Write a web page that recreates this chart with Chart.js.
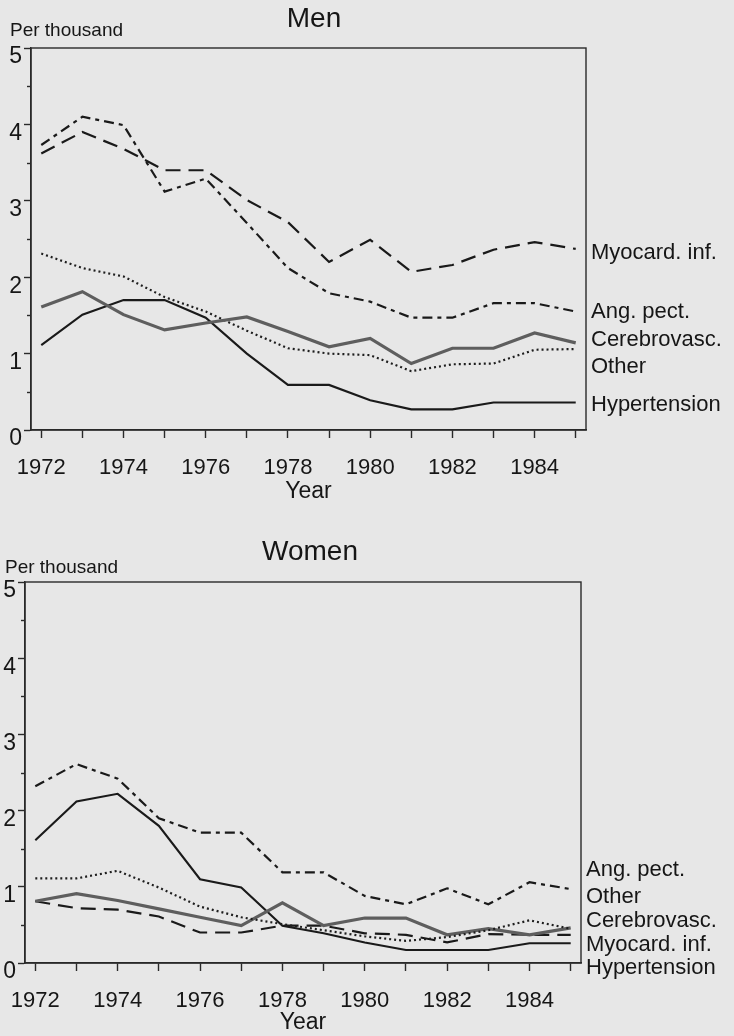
<!DOCTYPE html>
<html><head><meta charset="utf-8">
<script src="https://cdn.jsdelivr.net/npm/chart.js@4.4.1/dist/chart.umd.min.js"></script>
<style>
html,body{margin:0;padding:0;background:#e7e7e7;}
#wrap{position:relative;width:734px;height:1036px;overflow:hidden;background:#e7e7e7;}
.c{position:absolute;left:0;width:734px;height:518px;}
</style></head><body>
<div id="wrap">
<div class="c" style="top:0"><canvas id="men" width="734" height="518"></canvas></div>
<div class="c" style="top:518px"><canvas id="women" width="734" height="518"></canvas></div>
</div>
<script>
// ---- data ----
const years = [1972,1973,1974,1975,1976,1977,1978,1979,1980,1981,1982,1983,1984,1985];
const yearTickLabels = [1972,1974,1976,1978,1980,1982,1984];
const yTickLabels = [0,1,2,3,4,5];

const menMyocard = [3.62,3.90,3.68,3.40,3.40,3.01,2.72,2.20,2.49,2.07,2.16,2.36,2.46,2.37];
const menAngPect = [3.73,4.10,3.99,3.12,3.29,2.71,2.12,1.79,1.68,1.47,1.47,1.66,1.66,1.55];
const menCerebro = [1.61,1.81,1.51,1.31,1.40,1.48,1.29,1.09,1.20,0.87,1.07,1.07,1.27,1.14];
const menOther   = [2.31,2.12,2.01,1.74,1.55,1.30,1.07,1.00,0.98,0.77,0.86,0.87,1.05,1.06];
const menHyper   = [1.11,1.51,1.70,1.70,1.47,1.00,0.59,0.59,0.39,0.27,0.27,0.36,0.36,0.36];

const womenAngPect = [2.32,2.61,2.42,1.90,1.71,1.71,1.19,1.19,0.88,0.77,0.98,0.77,1.06,0.97];
const womenOther   = [1.11,1.11,1.21,0.99,0.74,0.60,0.51,0.43,0.35,0.29,0.34,0.43,0.56,0.45];
const womenCerebro = [0.81,0.91,0.82,0.71,0.60,0.49,0.79,0.49,0.59,0.59,0.37,0.45,0.37,0.46];
const womenMyocard = [0.81,0.72,0.70,0.61,0.40,0.40,0.49,0.49,0.39,0.37,0.27,0.38,0.37,0.37];
const womenHyper   = [1.61,2.12,2.22,1.80,1.10,0.99,0.49,0.39,0.27,0.17,0.17,0.17,0.26,0.26];

// ---- styles ----
const FONT = '"Liberation Sans", Arial, Helvetica, sans-serif';
const INK = '#161616';
Chart.defaults.font.family = FONT;
Chart.defaults.color = INK;

const styles = {
  'Myocard. inf.': {borderColor:'#1a1a1a', borderWidth:2.2, borderDash:[15,8]},
  'Ang. pect.':    {borderColor:'#1a1a1a', borderWidth:2.2, borderDash:[10,5,4,5]},
  'Cerebrovasc.':  {borderColor:'#5e5e5e', borderWidth:3.2, borderDash:[]},
  'Other':         {borderColor:'#1e1e1e', borderWidth:2.2, borderDash:[2,3]},
  'Hypertension':  {borderColor:'#1a1a1a', borderWidth:2.1, borderDash:[]}
};

const decor = {
  id:'decor',
  afterDraw(chart, args, o){
    const {ctx, chartArea:a} = chart;
    const y = chart.scales.y;
    ctx.save();
    ctx.strokeStyle = '#2a2a2a'; ctx.lineWidth = 1.4;
    ctx.strokeRect(a.left, a.top, a.right - a.left, a.bottom - a.top);
    for (let v = 0.5; v < 5; v += 1) {
      const py = Math.round(y.getPixelForValue(v)) + 0.5;
      ctx.beginPath(); ctx.moveTo(a.left - 4, py); ctx.lineTo(a.left, py); ctx.stroke();
    }
    ctx.fillStyle = INK;
    ctx.textBaseline = 'middle';
    ctx.textAlign = 'center';
    ctx.font = '28px ' + FONT;
    ctx.fillText(o.title, o.titleX, o.titleY);
    ctx.textAlign = 'left';
    ctx.font = '19px ' + FONT;
    ctx.fillText('Per thousand', o.unitX, o.unitY);
    ctx.font = '22px ' + FONT;
    o.labels.forEach((t, i) => ctx.fillText(t, a.right + o.labelGap, y.getPixelForValue(o.labelAt[i])));
    ctx.restore();
  }
};

function makeChart(id, series, cfg){
  const datasets = series.map(s => Object.assign({
    label: s.name,
    data: years.map((yr, i) => ({x: yr, y: s.values[i]})),
    pointRadius: 0, fill: false, tension: 0
  }, styles[s.name]));
  return new Chart(document.getElementById(id), {
    type: 'line',
    data: {datasets},
    options: {
      responsive: false, animation: false, devicePixelRatio: 1,
      layout: {padding: {top: cfg.top, left: 0, right: 734 - cfg.right, bottom: 0}},
      plugins: {legend: {display: false}, tooltip: {enabled: false}, title: {display: false}, decor: cfg.decor},
      scales: {
        x: {
          type: 'linear', min: 1971.75, max: 1985.25,
          afterFit(s){ s.height = cfg.xAxisH; s.paddingLeft = 0; s.paddingRight = 0; },
          ticks: {stepSize: 1, includeBounds: false, autoSkip: false, maxRotation: 0,
                  padding: 17, font: {size: 22}, color: INK,
                  callback: v => yearTickLabels.includes(v) ? String(v) : ''},
          grid: {drawOnChartArea: false, drawTicks: true, tickLength: 8, tickColor: '#2a2a2a', tickWidth: 1.4},
          border: {display: true, color: '#2a2a2a', width: 1.4},
          title: {display: true, text: 'Year', font: {size: 23}, color: INK, padding: {top: 0, bottom: cfg.yearPad}}
        },
        y: {
          min: 0, max: 5,
          afterFit(s){ s.width = cfg.left; s.paddingTop = 0; s.paddingBottom = 0; },
          ticks: {stepSize: 1, labelOffset: 9, padding: 2, font: {size: 23}, color: INK,
                  callback: v => yTickLabels.includes(v) ? String(v) : ''},
          grid: {drawOnChartArea: false, drawTicks: true, tickLength: 7, tickColor: '#2a2a2a', tickWidth: 1.4},
          border: {display: true, color: '#2a2a2a', width: 1.4}
        }
      }
    },
    plugins: [decor]
  });
}

makeChart('men', [
  {name: 'Myocard. inf.', values: menMyocard},
  {name: 'Ang. pect.', values: menAngPect},
  {name: 'Cerebrovasc.', values: menCerebro},
  {name: 'Other', values: menOther},
  {name: 'Hypertension', values: menHyper}
], {top: 48, left: 31, right: 586, xAxisH: 88, yearPad: 13,
    decor: {title: 'Men', titleX: 314, titleY: 19, unitX: 10, unitY: 31, labelGap: 5,
            labels: ['Myocard. inf.', 'Ang. pect.', 'Cerebrovasc.', 'Other', 'Hypertension'],
            labelAt: [2.32, 1.54, 1.18, 0.82, 0.33]}});

makeChart('women', [
  {name: 'Ang. pect.', values: womenAngPect},
  {name: 'Other', values: womenOther},
  {name: 'Cerebrovasc.', values: womenCerebro},
  {name: 'Myocard. inf.', values: womenMyocard},
  {name: 'Hypertension', values: womenHyper}
], {top: 64, left: 25, right: 581, xAxisH: 73, yearPad: 0,
    decor: {title: 'Women', titleX: 310, titleY: 34, unitX: 5, unitY: 50, labelGap: 5,
            labels: ['Ang. pect.', 'Other', 'Cerebrovasc.', 'Myocard. inf.', 'Hypertension'],
            labelAt: [1.22, 0.87, 0.55, 0.24, -0.07]}});
</script>
</body></html>
